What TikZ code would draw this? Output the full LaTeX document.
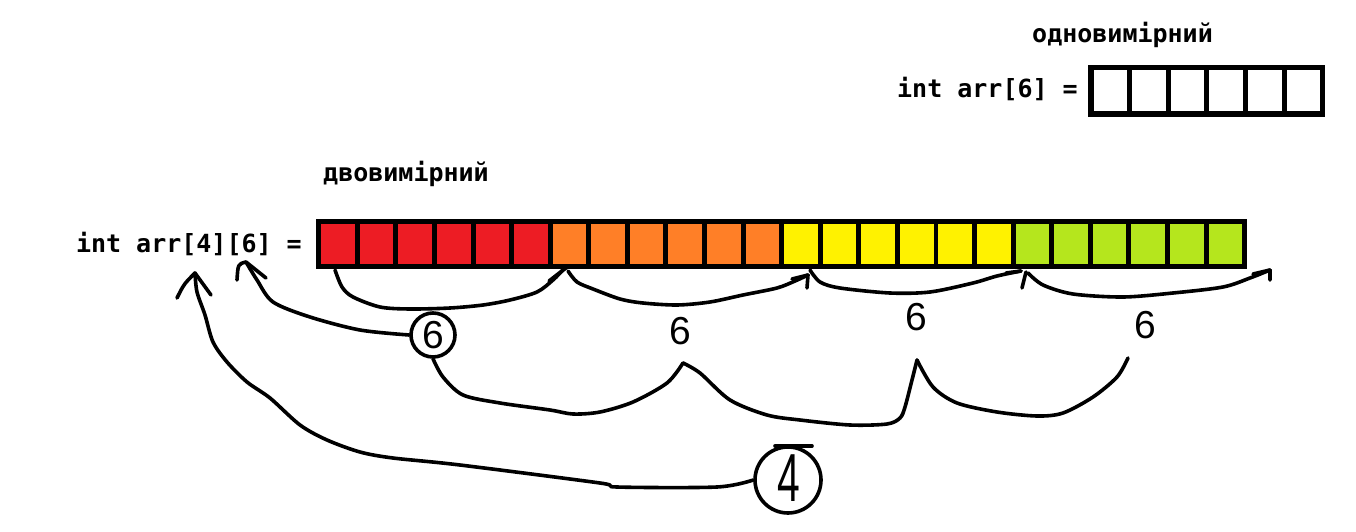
\documentclass[tikz,border=0pt]{standalone}
\usepackage{fontspec}
\usepackage{graphicx}
\usetikzlibrary{shapes.geometric}
\newfontfamily\codefont{DejaVu Sans Mono}
\newfontfamily\handfont{Liberation Sans}
\definecolor{cred}{HTML}{ED1C24}
\definecolor{corange}{HTML}{FF7F27}
\definecolor{cyellow}{HTML}{FFF200}
\definecolor{cgreen}{HTML}{B5E61D}
\begin{document}
\begin{tikzpicture}[x=1pt,y=-1pt,
  hand/.style={line width=3.6pt,line cap=round,line join=round},
  code/.style={font=\codefont\bfseries\fontsize{25}{30}\selectfont,inner sep=0pt},
  digit/.style={font=\handfont\fontsize{39}{40}\selectfont,inner sep=0pt},
  cellbox/.style={minimum width=33.6pt,minimum height=40pt,inner sep=0pt,anchor=north west}]
\useasboundingbox (0,0) rectangle (1356,532);

% one-dimensional array
\node[code,anchor=base west] (t1) at (1032,43) {одновимірний};
\node[code,anchor=base east] (d1) at (1078,98) {int arr[6] =};
\fill (1088,65) rectangle (1325,117);
\foreach \j in {0,...,5}{
  \pgfmathsetmacro\xx{1093.3+\j*38.6}
  \node[cellbox,fill=white,minimum height=41pt] (a\j) at (\xx,70) {};
}

% two-dimensional array
\node[code,anchor=base west] (t2) at (323,181) {двовимірний};
\node[code,anchor=base east] (d2) at (302,252) {int arr[4][6] =};
\fill (316,219) rectangle (1247,269);
\foreach \c [count=\k from 0] in {cred,corange,cyellow,cgreen}{
  \foreach \j in {0,...,5}{
    \pgfmathtruncatemacro\n{6*\k+\j}
    \pgfmathsetmacro\xx{321+\n*38.58}
    \node[cellbox,fill=\c] (b\n) at (\xx,224) {};
  }
}

% labels
\node[digit,draw,circle,line width=3.6pt,minimum size=44pt] (s1) at (433,335) {6};
\node[digit] (s2) at (680,331) {6};
\node[digit] (s3) at (916,317) {6};
\node[digit] (s4) at (1145,325) {6};
\node[draw,ellipse,line width=3.6pt,minimum width=66pt,minimum height=66pt,inner sep=0pt] (c4) at (788,480) {};
\node[font=\handfont\fontsize{68}{68}\selectfont,inner sep=0pt] (n4) at (789,478) {\scalebox{0.6}[1]{4}};
\draw[hand] (775,446) -- (812,446);

% coordinates
\coordinate (p1) at (335,270);
\coordinate (p2) at (567,267);
\coordinate (p3) at (808,275);
\coordinate (p4) at (1021,271);
\coordinate (p5) at (1270,270);
\coordinate (sp1) at (683,363);
\coordinate (sp2) at (917,360);
\coordinate (e4) at (1128,358);
\coordinate (tip6) at (246,262);
\coordinate (tip4) at (195,273);

% arcs under the array
\draw[hand] plot[smooth] coordinates {(p1) (342,287) (353,297) (380,307) (410,309) (450,308) (483,305) (510,300) (537,292) (553,280) (563,270) (p2)};
\draw[hand] (p2) -- (549,281);
\draw[hand] plot[smooth] coordinates {(568,271) (577,282) (593,289) (620,299) (643,303) (677,305) (710,302) (743,295) (777,288) (795,281) (p3)};
\draw[hand] (p3) -- (792,279) (p3) -- (807,288);
\draw[hand] plot[smooth] coordinates {(810,270) (820,282) (840,288) (890,293) (930,292) (973,283) (997,276) (p4)};
\draw[hand] (p4) -- (1006,273) (1026,272) -- (1022,288);
\draw[hand] plot[smooth] coordinates {(1028,273) (1043,285) (1073,294) (1123,297) (1173,293) (1223,287) (1250,278) (p5)};
\draw[hand] (p5) -- (1253,274) (p5) -- (1270,280);

% arrows to the indices
\draw[hand] plot[smooth] coordinates {(s1.west) (360,330) (310,317) (273,302) (257,280) (tip6)};
\draw[hand] (tip6) .. controls (238,264) .. (237,280);
\draw[hand] (tip6) -- (266,278);
\draw[hand] plot[smooth] coordinates {(c4.west) (717,487) (617,487) (600,483) (460,465) (393,458) (360,452) (327,440) (300,425) (270,398) (247,382) (227,362) (213,342) (205,315) (197,292) (tip4)};
\draw[hand] (tip4) .. controls (184,284) .. (177,298);
\draw[hand] (tip4) -- (211,295);

% bottom arcs linking the sixes
\draw[hand] plot[smooth] coordinates {(s1.south) (443,377) (463,395) (500,403) (550,410) (573,414) (600,412) (633,402) (667,383) (sp1)};
\draw[hand] plot[smooth] coordinates {(sp1) (700,373) (730,400) (767,415) (800,420) (850,425) (887,424) (900,418) (905,407) (912,380) (sp2)};
\draw[hand] plot[smooth] coordinates {(sp2) (933,387) (957,403) (997,412) (1037,416) (1063,413) (1093,397) (1117,377) (e4)};
\end{tikzpicture}
\end{document}
